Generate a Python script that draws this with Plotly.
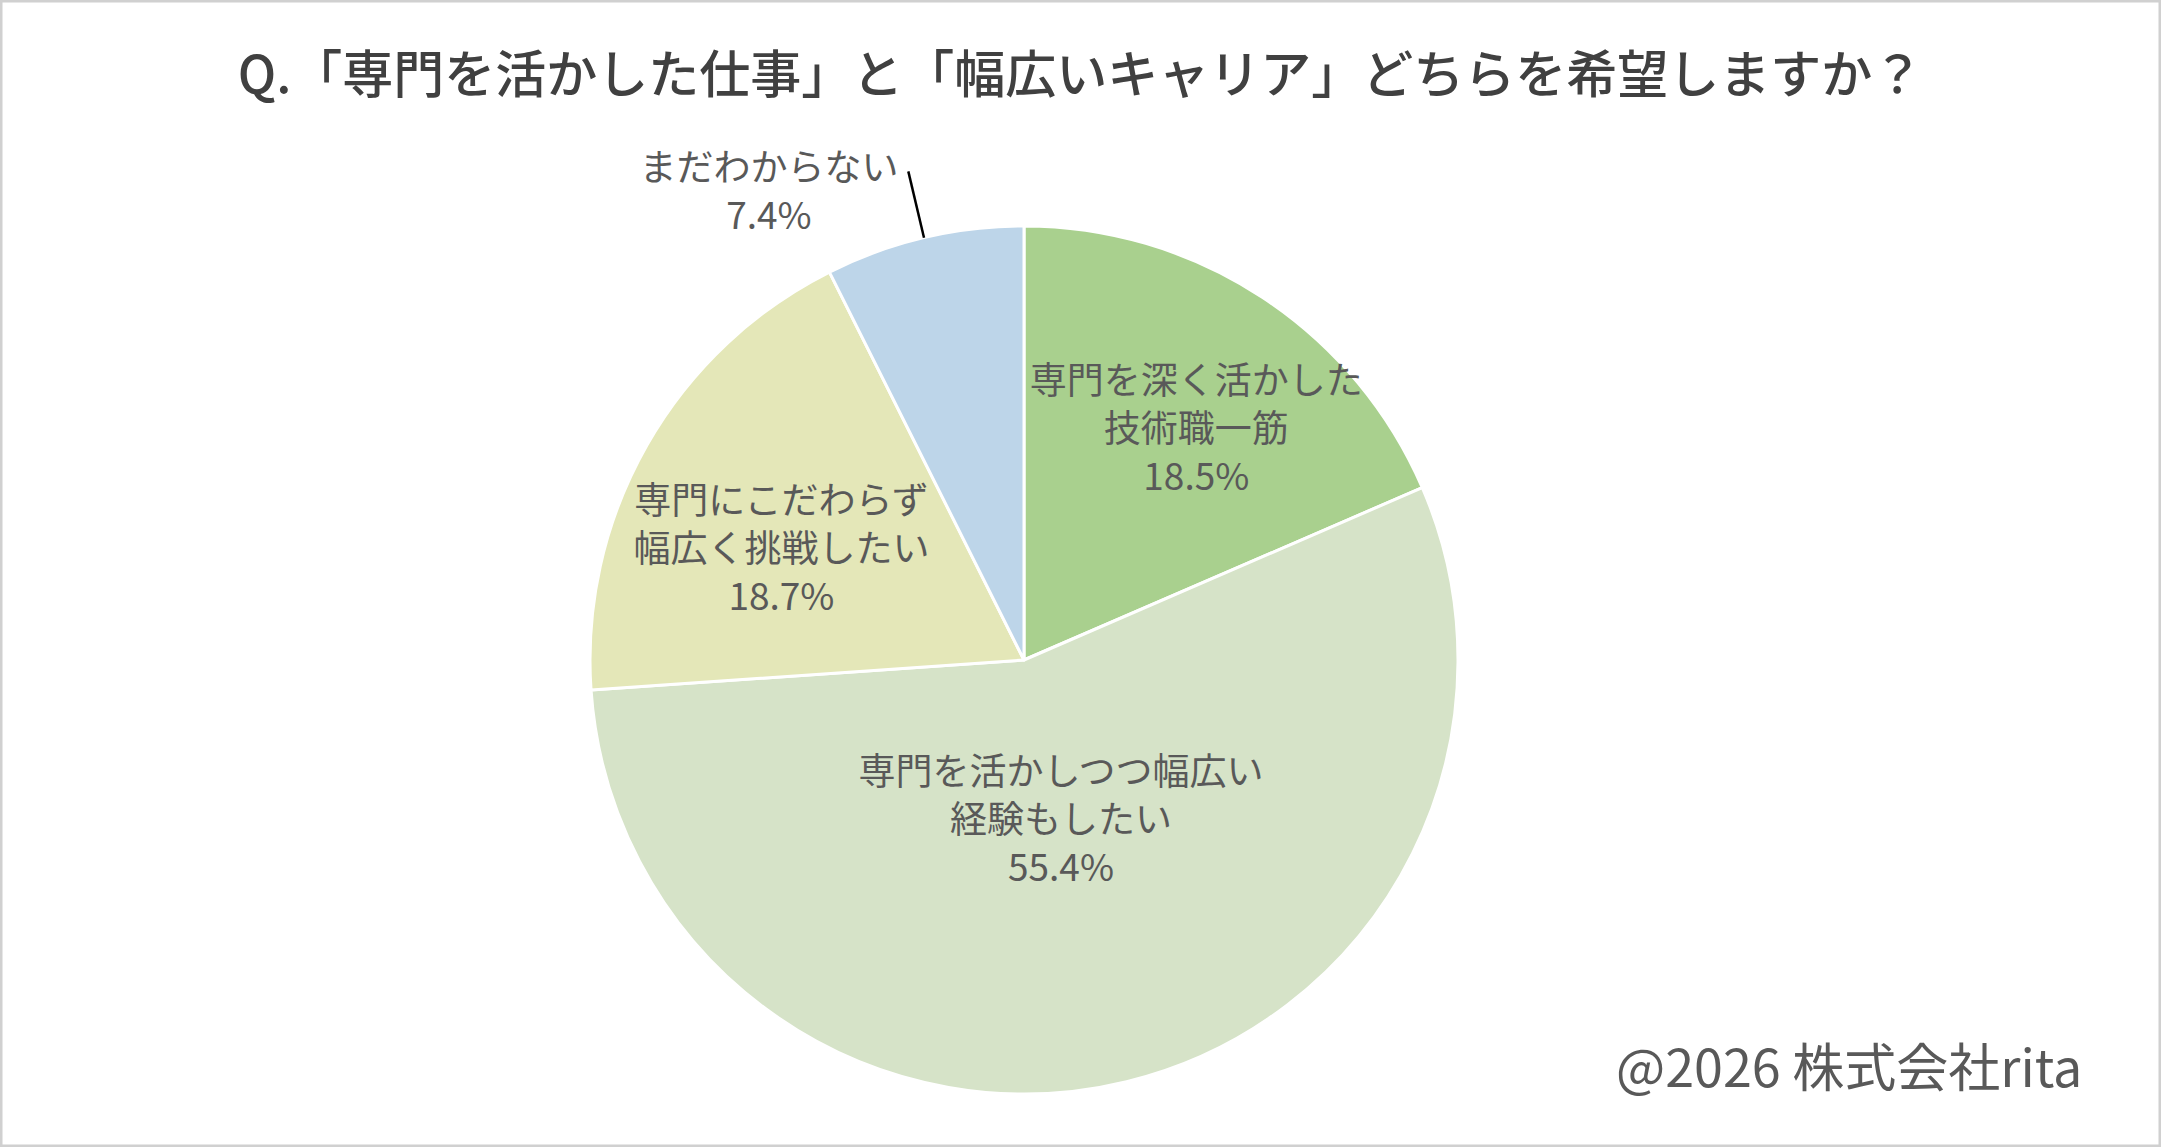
import math
import plotly.graph_objects as go

# answers (clockwise from 12 o'clock)
labels = ["専門を深く活かした<br>技術職一筋",
          "専門を活かしつつ幅広い<br>経験もしたい",
          "専門にこだわらず<br>幅広く挑戦したい",
          "まだわからない"]
shares = [18.5, 55.4, 18.7, 7.4]
colors = ["#A9D08E", "#D6E3C8", "#E4E7B8", "#BDD5E9"]
text_pos = ["inside", "inside", "inside", "outside"]

title_text = "Q.「専門を活かした仕事」と「幅広いキャリア」どちらを希望しますか？"
credit_text = "@2026 株式会社rita"

W, H = 2161, 1147
font_jp = "Noto Sans CJK JP"
label_size = 37
SP = "\u3000"

# label text per slice; invisible padding nudges labels to where the original has them
lead = [SP, SP * 2, "", ""]
top_pad = ["", "", SP + "<br>", ""]
texts = []
for lab, v, ld, tp in zip(labels, shares, lead, top_pad):
    lines = lab.split("<br>") + [f"{v:.1f}%"]
    texts.append(tp + "<br>".join(ld + ln for ln in lines))

# pie placement (pixels)
cx, cy, r = 1024, 660, 434
dom_x = [(cx - r) / W, (cx + r) / W]
dom_y = [(H - cy - r) / H, (H - cy + r) / H]

fig = go.Figure(go.Pie(
    labels=labels,
    values=shares,
    text=texts,
    sort=False,
    direction="clockwise",
    rotation=0,
    marker=dict(colors=colors, line=dict(color="white", width=3)),
    textinfo="text",
    textposition=text_pos,
    insidetextorientation="horizontal",
    textfont=dict(family=font_jp, size=label_size, color="#595959"),
    outsidetextfont=dict(family=font_jp, size=label_size, color="#595959"),
    showlegend=False,
    hoverinfo="label+value",
    domain=dict(x=dom_x, y=dom_y),
))

# leader line for the small slice, along its mid angle
start = sum(shares[:-1]) / sum(shares)
mid = (start + shares[-1] / sum(shares) / 2) * 2 * math.pi
x0 = cx + r * math.sin(mid)
y0 = cy - r * math.cos(mid)
x1 = cx + r * 1.157 * math.sin(mid)
y1 = cy - r * 1.157 * math.cos(mid)
fig.add_shape(type="line", xref="paper", yref="paper",
              x0=x0 / W, y0=1 - y0 / H, x1=x1 / W, y1=1 - y1 / H,
              line=dict(color="black", width=2.5))

# border
fig.add_shape(type="rect", xref="paper", yref="paper", x0=0, y0=0, x1=1, y1=1,
              line=dict(color="#D0D0D0", width=5))

fig.add_annotation(text=credit_text, xref="paper", yref="paper",
                   x=2084 / W, y=1 - 1064 / H, xanchor="right", yanchor="middle",
                   showarrow=False, font=dict(family=font_jp, size=52, color="#595959"))

fig.update_layout(
    title=dict(text=title_text, x=0.5, xanchor="center", y=1 - 75 / H, yanchor="middle",
               font=dict(family=font_jp, size=51, color="#404040", weight=500)),
    width=W, height=H,
    margin=dict(l=0, r=0, t=0, b=0),
    paper_bgcolor="white",
    plot_bgcolor="white",
    uniformtext=dict(minsize=label_size, mode="show"),
)

fig.write_html("out.html", config={"displayModeBar": False},
               post_script="document.body.style.margin='0';")
